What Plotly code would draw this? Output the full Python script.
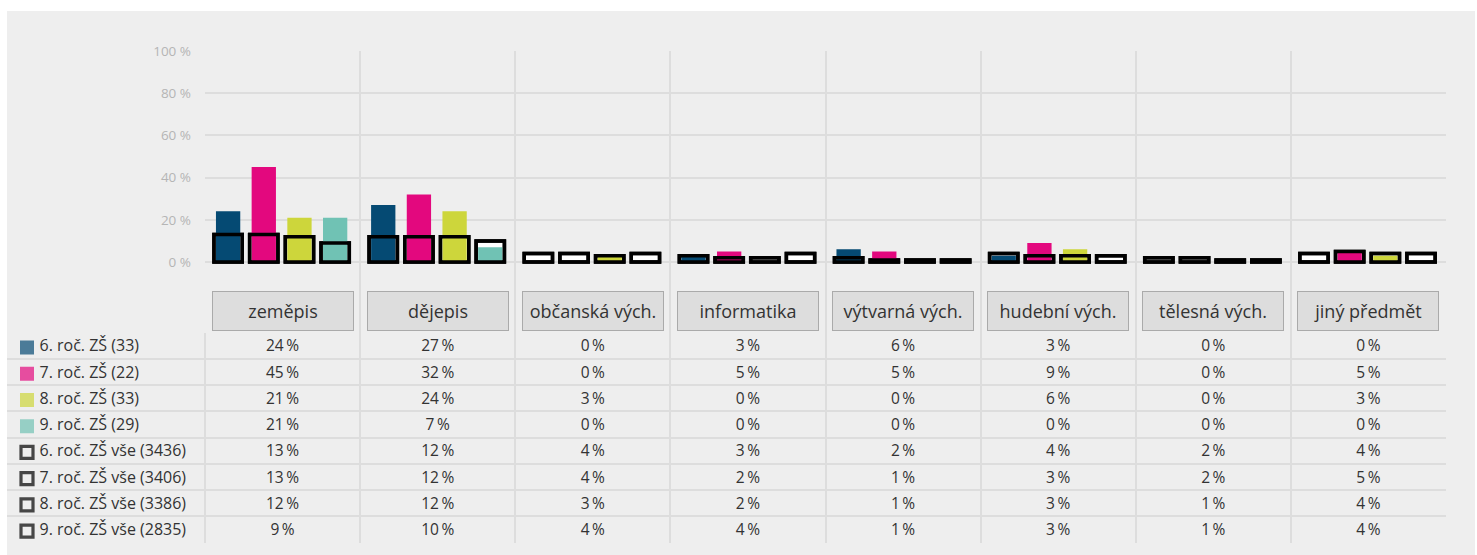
import plotly.graph_objects as go

# ---------------- data ----------------
categories = ["zeměpis", "dějepis", "občanská vých.", "informatika",
              "výtvarná vých.", "hudební vých.", "tělesná vých.", "jiný předmět"]

series_names = ["6. roč. ZŠ (33)", "7. roč. ZŠ (22)", "8. roč. ZŠ (33)", "9. roč. ZŠ (29)"]
grade6 = [24, 27, 0, 3, 6, 3, 0, 0]
grade7 = [45, 32, 0, 5, 5, 9, 0, 5]
grade8 = [21, 24, 3, 0, 0, 6, 0, 3]
grade9 = [21, 7, 0, 0, 0, 0, 0, 0]

all_names = ["6. roč. ZŠ vše (3436)", "7. roč. ZŠ vše (3406)",
             "8. roč. ZŠ vše (3386)", "9. roč. ZŠ vše (2835)"]
grade6_all = [13, 12, 4, 3, 2, 4, 2, 4]
grade7_all = [13, 12, 4, 2, 1, 3, 2, 5]
grade8_all = [12, 12, 3, 2, 1, 3, 1, 4]
grade9_all = [9, 10, 4, 4, 1, 3, 1, 4]

y_ticks = [0, 20, 40, 60, 80, 100]

# ---------------- style ----------------
colors = ["#054a73", "#e3087e", "#cdd63b", "#70c2b4"]
FONT = "Open Sans"
TXT = "#333333"
GRID = "#dddddd"
FW, FH = 1477, 555
PX_L, PX_R = 205, 1446           # plot left/right (px)
CW = (PX_R - PX_L) / 8.0          # px per category
PANEL_L = 7
ROW_DY = 0.07                     # small downward nudge of row texts

def py(p):  # pixel y -> paper
    return 1 - p / FH

def pxp(p):  # pixel x -> paper
    return p / FW

sample = [grade6, grade7, grade8, grade9]
overall = [grade6_all, grade7_all, grade8_all, grade9_all]
xs = list(range(len(categories)))

centers = [-0.351 + 0.23 * k for k in range(4)]
w_bar = 24.3 / CW
w_box = 28.3 / CW

fig = go.Figure()

# layer 1: white-filled boxes for overall series
for k in range(4):
    fig.add_trace(go.Bar(
        x=xs, y=overall[k], width=w_box, offset=centers[k] - w_box / 2,
        marker=dict(color="#ffffff", line=dict(color="#000000", width=3.5)),
        showlegend=False, hoverinfo="skip", xaxis="x", yaxis="y"))
# layer 2: coloured sample bars
for k in range(4):
    fig.add_trace(go.Bar(
        x=xs, y=sample[k], width=w_bar, offset=centers[k] - w_bar / 2,
        marker=dict(color=colors[k], line=dict(width=0)),
        name=series_names[k], showlegend=False, xaxis="x", yaxis="y"))
# layer 3: black outlines on top
for k in range(4):
    fig.add_trace(go.Bar(
        x=xs, y=overall[k], width=w_box, offset=centers[k] - w_box / 2,
        marker=dict(color="rgba(0,0,0,0)", line=dict(color="#000000", width=3.5)),
        name=all_names[k], showlegend=False, xaxis="x", yaxis="y"))

# ---------------- table ----------------
rows = sample + overall
row_names = series_names + all_names
tx, ty, tt = [], [], []
for r, vals in enumerate(rows):
    for i, v in enumerate(vals):
        tx.append(i)
        ty.append(r + ROW_DY)
        tt.append(f"{v}\u2009%")
fig.add_trace(go.Scatter(
    x=tx, y=ty, text=tt, mode="text",
    textfont=dict(family=FONT, size=15.5, color=TXT),
    showlegend=False, hoverinfo="skip", xaxis="x2", yaxis="y2"))

# row legend (marker + label)
x2_min = -0.5 - (PX_L - PANEL_L) / CW
leg_x = x2_min + (27 - PANEL_L) / CW
lab_x = x2_min + (39.5 - PANEL_L) / CW
ridx = [r + ROW_DY for r in range(len(row_names))]
fig.add_trace(go.Scatter(
    x=[leg_x] * len(row_names), y=ridx, mode="markers",
    marker=dict(symbol="square",
                size=[14] * 4 + [12] * 4,
                color=colors + ["rgba(0,0,0,0)"] * 4,
                line=dict(color="#000000", width=[0] * 4 + [3.2] * 4)),
    showlegend=False, hoverinfo="skip", xaxis="x2", yaxis="y2"))
fig.add_trace(go.Scatter(
    x=[lab_x] * len(row_names), y=ridx, text=row_names, mode="text",
    textposition="middle right",
    textfont=dict(family=FONT, size=16, color=TXT),
    showlegend=False, hoverinfo="skip", xaxis="x2", yaxis="y2"))

# category label boxes
for i, c in enumerate(categories):
    fig.add_annotation(
        x=i, xref="x", y=py(311), yref="paper", text=c, showarrow=False,
        font=dict(family=FONT, size=18, color=TXT),
        bgcolor="#dddddd", bordercolor="#aaaaaa", borderwidth=1, borderpad=0,
        width=140, height=38, xanchor="center", yanchor="middle")

grid_x = [i - 0.5 for i in range(len(categories))]

fig.update_layout(
    width=FW, height=FH,
    margin=dict(l=0, r=0, t=0, b=0, pad=0),
    paper_bgcolor="#ffffff", plot_bgcolor="#eeeeee",
    barmode="overlay",
    font=dict(family=FONT, color=TXT),
    shapes=[dict(type="rect", xref="paper", yref="paper",
                 x0=pxp(PANEL_L), x1=pxp(1475), y0=-0.01, y1=py(11),
                 fillcolor="#eeeeee", line=dict(width=0), layer="below")],
    xaxis=dict(domain=[pxp(PX_L), pxp(PX_R)], range=[-0.5, 7.5], anchor="y",
               tickvals=grid_x, showticklabels=False, ticks="", automargin=False,
               showgrid=True, gridcolor=GRID, gridwidth=2,
               zeroline=False, showline=False, fixedrange=True),
    yaxis=dict(domain=[py(332.5), py(51)], range=[-70.5 / 2.11, 100], anchor="x",
               tickvals=y_ticks, ticktext=[f"{v} %" for v in y_ticks],
               tickfont=dict(family=FONT, size=13.5, color="#b5b5b5"),
               ticks="", ticklabelstandoff=13, automargin=False,
               showgrid=True, gridcolor=GRID, gridwidth=2,
               zeroline=False, showline=False, fixedrange=True),
    xaxis2=dict(domain=[pxp(PANEL_L), pxp(PX_R)], range=[x2_min, 7.5], anchor="y2",
                tickvals=grid_x, showticklabels=False, ticks="", automargin=False,
                showgrid=True, gridcolor=GRID, gridwidth=2,
                zeroline=False, showline=False, fixedrange=True),
    yaxis2=dict(domain=[py(542.5), py(332.5)], range=[7.5, -0.5], anchor="x2",
                tickvals=[r + 0.5 for r in range(len(row_names))],
                showticklabels=False, ticks="", automargin=False,
                showgrid=True, gridcolor=GRID, gridwidth=2,
                zeroline=False, showline=False, fixedrange=True),
)

fig.write_html("out.html",
               post_script="document.body.style.margin='0';document.body.style.overflow='hidden';",
               config={"displayModeBar": False})
